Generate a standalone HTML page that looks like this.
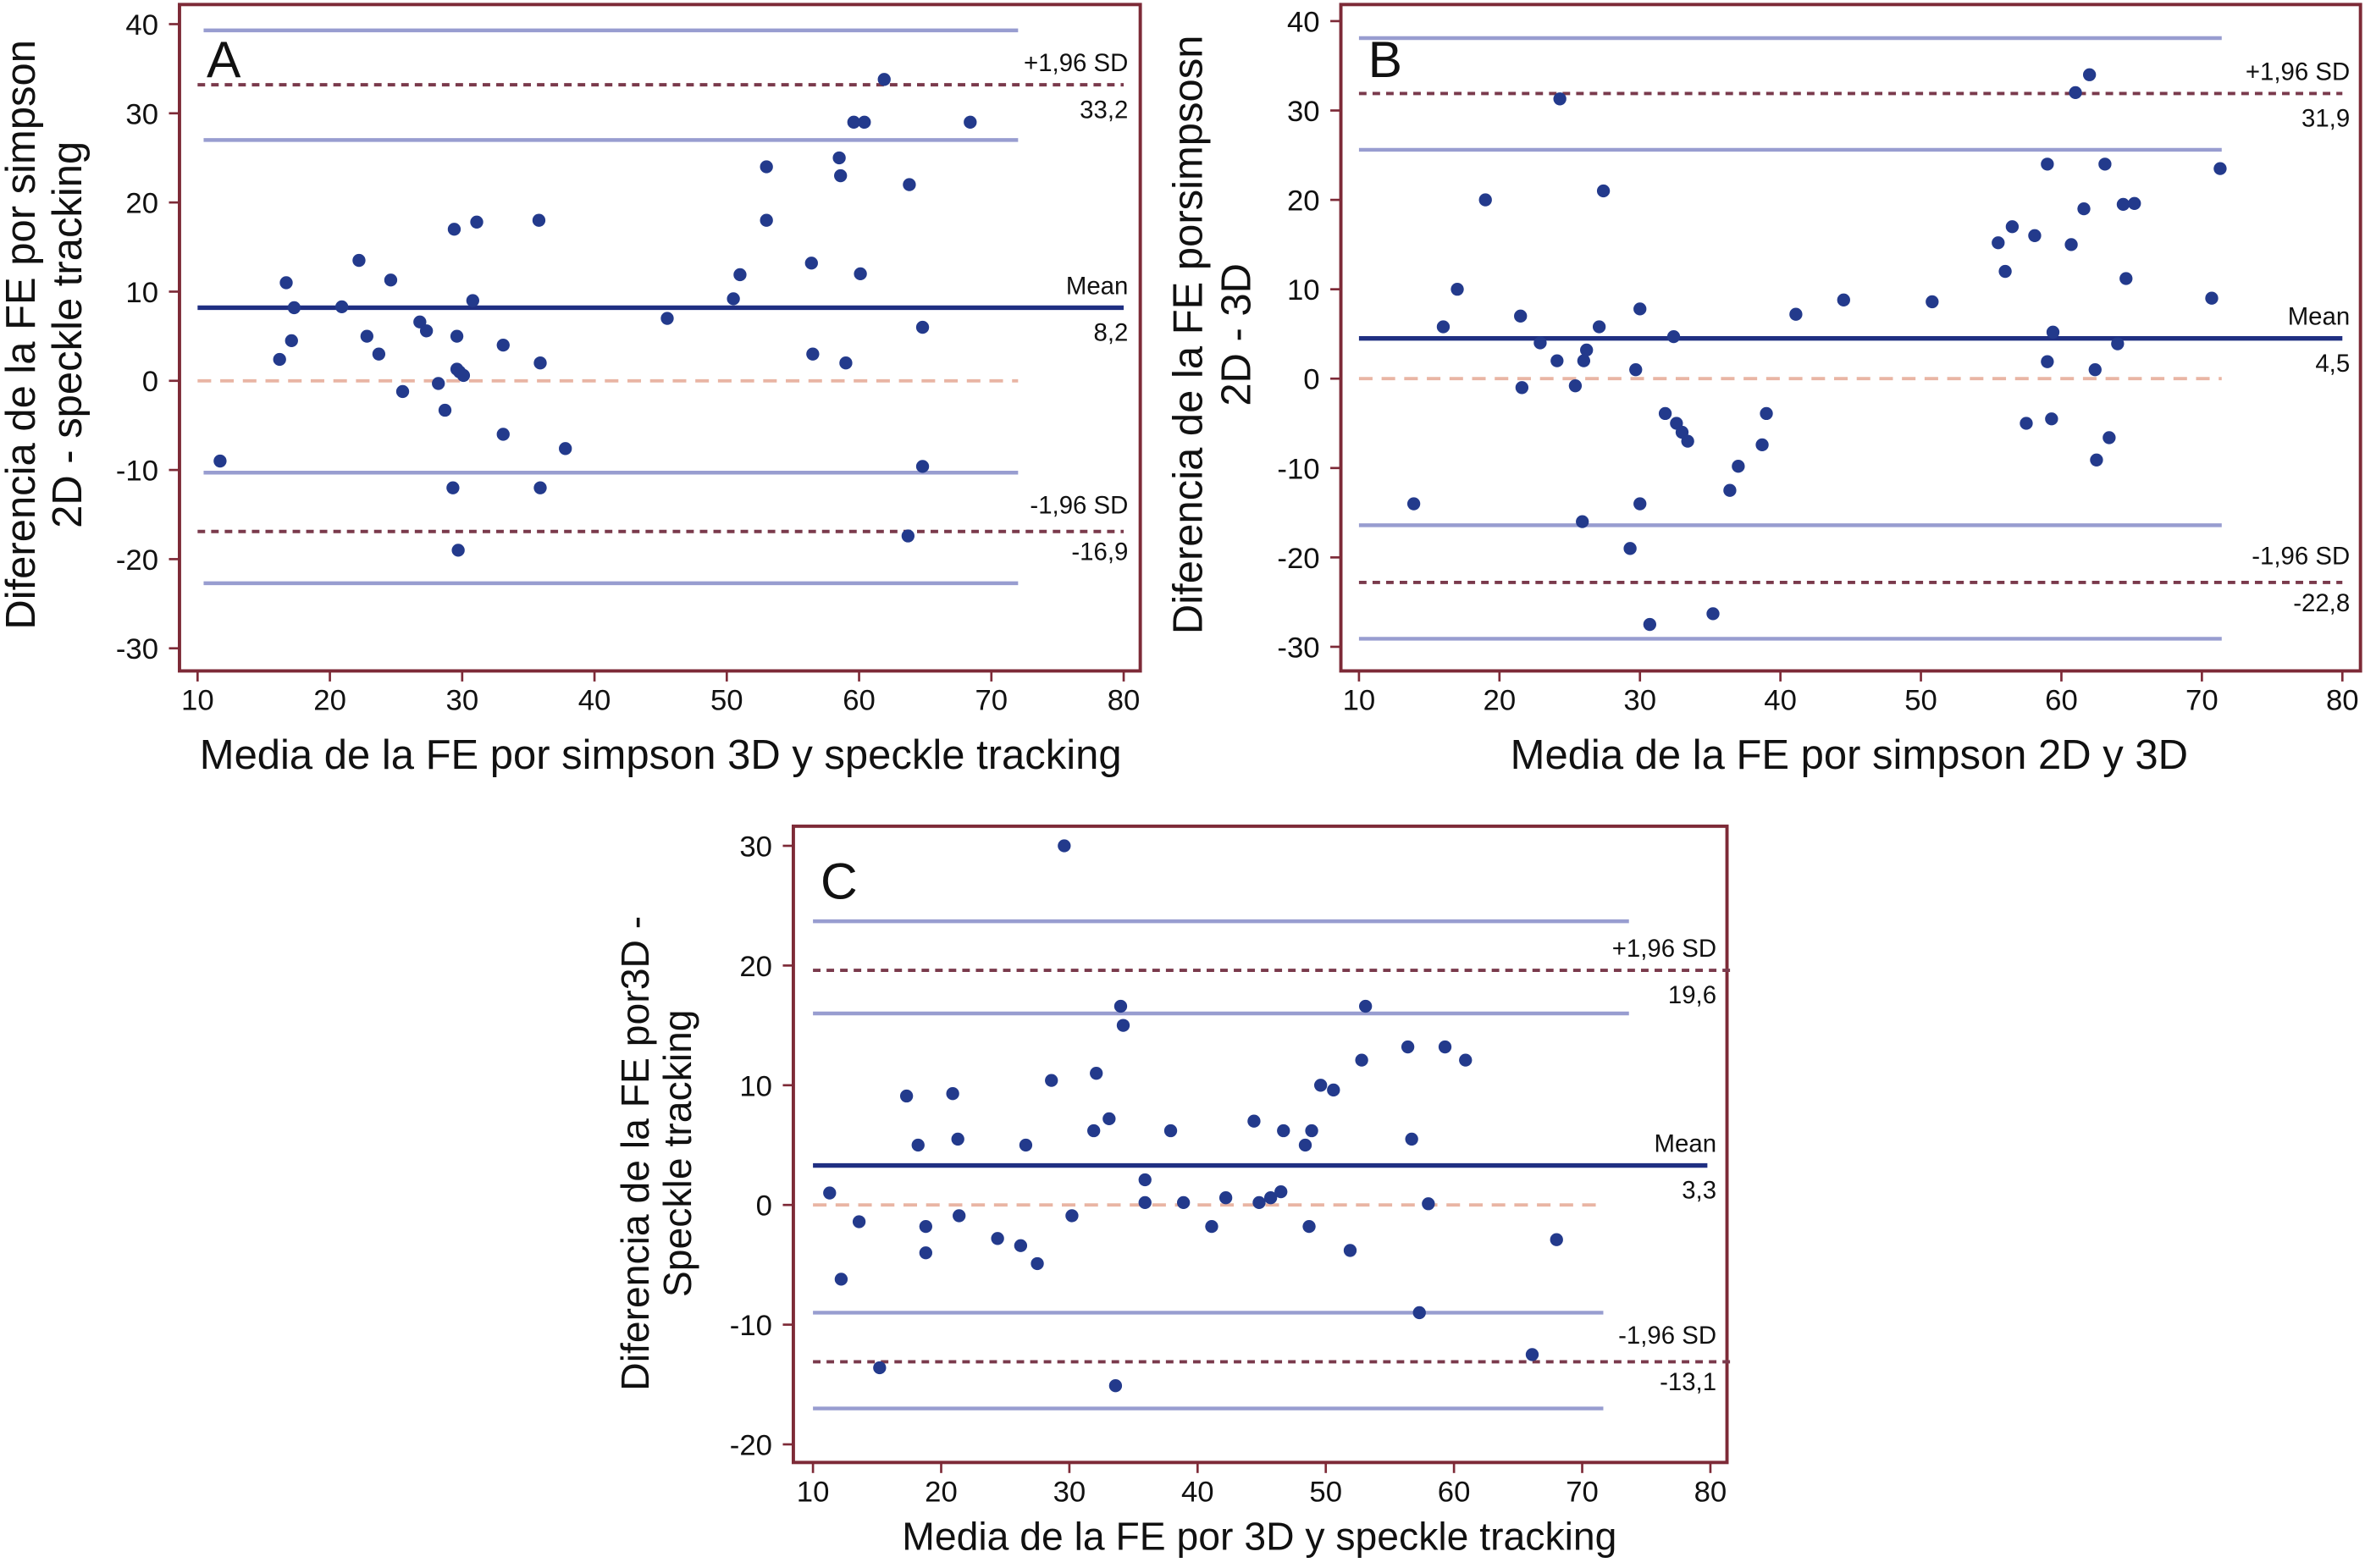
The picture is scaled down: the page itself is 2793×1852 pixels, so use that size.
<!DOCTYPE html>
<html><head><meta charset="utf-8"><style>
html,body{margin:0;padding:0;background:#fff}
svg{display:block}
text{font-family:"Liberation Sans",Arial,sans-serif;fill:#111}
</style></head><body>
<svg id="chart" width="2793" height="1852" viewBox="0 0 1568 1040" preserveAspectRatio="none" xmlns="http://www.w3.org/2000/svg"></svg>
<script>
// Panel A data
const aX = [11.7,16.2,16.7,17.1,17.3,20.9,22.2,22.8,23.7,24.6,25.5,26.8,27.3,28.2,28.7,29.4,29.6,29.6,29.7,29.8,30.1,30.8,31.1,33.1,33.1,35.8,35.9,35.9,37.8,29.3,45.5,50.5,51.0,53.0,53.0,56.4,56.5,58.5,58.6,59.0,59.6,60.1,60.4,61.9,63.8,63.7,64.8,64.8,68.4];
const aY = [-9,2.4,11,4.5,8.2,8.3,13.5,5,3,11.3,-1.2,6.6,5.6,-0.3,-3.3,17,1.3,5,-19,1,0.6,9,17.8,-6,4,18,2,-12,-7.6,-12,7,9.2,11.9,24,18,13.2,3,25,23,2,29,12,29,33.8,22,-17.4,-9.6,6,29];
const aLines = [39.3,33.2,27,8.2,0,-10.3,-16.9,-22.7];
// Panel B data
const bX = [13.9,16.0,17.0,19.0,21.5,21.6,22.9,24.1,24.3,25.4,25.9,26.0,26.2,27.1,27.4,29.3,29.7,30.0,30.0,30.7,31.8,32.4,32.6,33.0,33.4,35.2,36.4,37.0,38.7,39.0,41.1,44.5,50.8,55.5,56.0,56.5,57.5,58.1,59.0,59.0,59.3,59.4,60.7,61.0,61.6,62.0,62.4,62.5,63.1,63.4,64.0,64.4,64.6,65.2,70.7,71.3];
const bY = [-14,5.8,10,20,7,-1,4,2,31.3,-0.8,-16,2,3.2,5.8,21,-19,1,7.8,-14,-27.5,-3.9,4.7,-5,-6,-7,-26.3,-12.5,-9.8,-7.4,-3.9,7.2,8.8,8.6,15.2,12,17,-5,16,24,1.9,-4.5,5.2,15,32,19,34,1,-9.1,24,-6.6,3.9,19.5,11.2,19.6,9,23.5];
const bLines = [38.1,31.9,25.6,4.5,0,-16.4,-22.8,-29.1];
// Panel C data
const cX = [11.3,12.2,13.6,15.2,17.3,18.2,18.8,18.8,20.9,21.3,21.4,24.4,26.2,26.6,27.5,28.6,29.6,30.2,31.9,32.1,33.1,33.6,34.0,34.2,35.9,35.9,37.9,38.9,41.1,42.2,44.4,44.8,45.7,46.5,46.7,48.4,48.7,48.9,49.6,50.6,51.9,52.8,53.1,56.4,56.7,57.3,58.0,59.3,60.9,66.1,68.0];
const cY = [1,-6.2,-1.4,-13.6,9.1,5,-4,-1.8,9.3,5.5,-0.9,-2.8,-3.4,5,-4.9,10.4,30,-0.9,6.2,11,7.2,-15.1,16.6,15,2.1,0.2,6.2,0.2,-1.8,0.6,7,0.2,0.6,1.1,6.2,5,-1.8,6.2,10,9.6,-3.8,12.1,16.6,13.2,5.5,-9,0.1,13.2,12.1,-12.5,-2.9];
const cLines = [23.7,19.6,16,3.3,0,-9.0,-13.1,-17];
const xTicks = [10,20,30,40,50,60,70,80];
const yTicksAB = [40,30,20,10,0,-10,-20,-30];
const yTicksC = [30,20,10,0,-10,-20];

const NS="http://www.w3.org/2000/svg";
const svg=document.getElementById('chart');
function mk(tag,attrs,parent){const e=document.createElementNS(NS,tag);for(const k in attrs)e.setAttribute(k,attrs[k]);(parent||svg).appendChild(e);return e;}

function panel(p){
  const g=mk('g',{});
  
  
  const sx=v=>p.px0+(v-10)*(p.px1-p.px0)/70;
  const sy=v=>p.py0+(p.yTop-v)*(p.py1-p.py0)/(p.yTop-p.yBot);
  const fr=mk('rect',{x:p.fl,y:p.ft,width:p.fr-p.fl,height:p.fb-p.ft,fill:'none',stroke:'#7d2a37','stroke-width':2.2},g);
  
  
  xTicks.forEach(t=>{
    mk('line',{x1:sx(t),x2:sx(t),y1:p.fb,y2:p.fb+7,stroke:'#7d2a37','stroke-width':1.5},g);
    const tx=mk('text',{x:sx(t),y:p.fb+26,'text-anchor':'middle','font-size':19.5},g);
    tx.textContent=t;
    
    
  });
  p.yTicks.forEach(t=>{
    mk('line',{x1:p.fl-7,x2:p.fl,y1:sy(t),y2:sy(t),stroke:'#7d2a37','stroke-width':1.5},g);
    const tx=mk('text',{x:p.fl-14,y:sy(t)+7,'text-anchor':'end','font-size':19.5},g);
    tx.textContent=t;
    
    
  });
  const L=p.lines;
  const styles=[
    {v:L[0],x1:p.lx0,x2:p.lx1,c:'#989dd0',w:2.5,d:''},
    {v:L[1],x1:p.px0,x2:p.dx1,c:'#7a3a4c',w:2.2,d:'5,4'},
    {v:L[2],x1:p.lx0,x2:p.lx1,c:'#989dd0',w:2.5,d:''},
    {v:L[3],x1:p.px0,x2:p.mx1,c:'#1f2f82',w:3,d:''},
    {v:L[4],x1:p.px0,x2:p.zx1,c:'#e9b5a4',w:2.2,d:'9,6'},
    {v:L[5],x1:p.lx0,x2:p.zx1,c:'#989dd0',w:2.5,d:''},
    {v:L[6],x1:p.px0,x2:p.dx1,c:'#7a3a4c',w:2.2,d:'5,4'},
    {v:L[7],x1:p.lx0,x2:p.zx1,c:'#989dd0',w:2.5,d:''}
  ];
  const names=['upper-limit-ci-high','upper-limit-line','upper-limit-ci-low','mean-line','zero-line','lower-limit-ci-high','lower-limit-line','lower-limit-ci-low'];
  styles.forEach((s,i)=>{
    const ln=mk('line',{x1:s.x1,x2:s.x2,y1:sy(s.v),y2:sy(s.v),stroke:s.c,'stroke-width':s.w,'stroke-dasharray':s.d},g);
    
    
  });
  const ann=[['+1,96 SD',sy(L[1])-9],[L[1].toFixed(1).replace('.',','),sy(L[1])+22],['Mean',sy(L[3])-9],[L[3].toFixed(1).replace('.',','),sy(L[3])+22],['-1,96 SD',sy(L[6])-12],[L[6].toFixed(1).replace('.',','),sy(L[6])+19]];
  ann.forEach(a=>{
    const t=mk('text',{x:p.ax,y:a[1],'text-anchor':'end','font-size':16.5},g);
    t.textContent=a[0];
    
    
  });
  p.xs.forEach((x,i)=>{
    const c=mk('circle',{cx:sx(x),cy:sy(p.ys[i]),r:4.3,fill:'#233a8c'},g);
    
    
  });
  const lt=mk('text',{x:p.fl+18,y:p.ft+48,'font-size':34},g);
  lt.textContent=p.id;
  
  
  const xt=mk('text',{x:p.xtx,y:p.xty,'text-anchor':'middle','font-size':p.tfs},g);
  xt.textContent=p.xtitle;
  
  
  p.ytitle.forEach((s,i)=>{
    const yt=mk('text',{x:0,y:0,'text-anchor':'middle','font-size':p.tfs,transform:`translate(${p.ytx[i]},${p.yty}) rotate(-90)`},g);
    yt.textContent=s;
    
    
  });
}

panel({id:'A',xs:aX,ys:aY,lines:aLines,yTicks:yTicksAB,fl:119,fr:756,ft:3,fb:445,px0:131,px1:745,py0:16,py1:430,yTop:40,yBot:-30,
  lx0:135,lx1:675,dx1:745,mx1:745,zx1:675,ax:748,xtx:438,xty:510,tfs:27.5,
  xtitle:'Media de la FE por simpson 3D y speckle tracking',ytitle:['Diferencia de la FE por simpson','2D - speckle tracking'],ytx:[23,54],yty:222});
panel({id:'B',xs:bX,ys:bY,lines:bLines,yTicks:yTicksAB,fl:889,fr:1565,ft:3,fb:445,px0:901,px1:1553,py0:14,py1:429,yTop:40,yBot:-30,
  lx0:901,lx1:1473,dx1:1553,mx1:1553,zx1:1473,ax:1558,xtx:1226,xty:510,tfs:27.5,
  xtitle:'Media de la FE por simpson 2D y 3D',ytitle:['Diferencia de la FE porsimpsosn','2D - 3D'],ytx:[797,829],yty:222});
panel({id:'C',xs:cX,ys:cY,lines:cLines,yTicks:yTicksC,fl:526,fr:1145,ft:548,fb:970,px0:539,px1:1134,py0:561,py1:958,yTop:30,yBot:-20,
  lx0:539,lx1:1080,dx1:1150,mx1:1132,zx1:1063,ax:1138,xtx:835,xty:1028,tfs:26,
  xtitle:'Media de la FE por 3D y speckle tracking',ytitle:['Diferencia de la FE por3D -','Speckle tracking'],ytx:[430,458],yty:765});
</script>
</body></html>
